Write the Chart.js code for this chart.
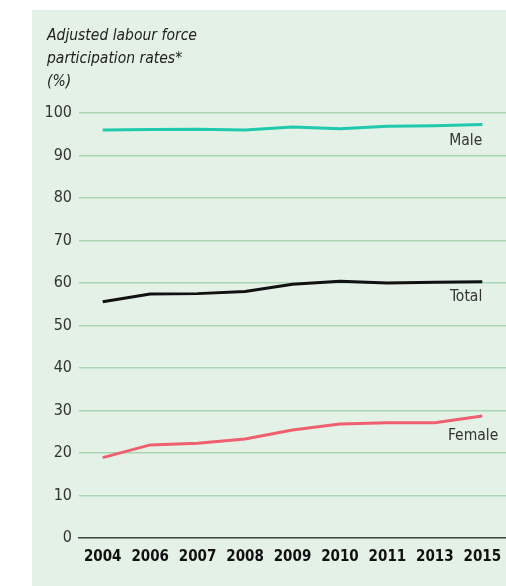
<!DOCTYPE html>
<html>
<head>
<meta charset="utf-8">
<script src="https://cdn.jsdelivr.net/npm/chart.js@4/dist/chart.umd.min.js"></script>
<style>
    html, body { margin: 0; padding: 0; background: #fff; }
    body { width: 506px; height: 586px; position: relative; overflow: hidden; }
    .panel { position: absolute; left: 32px; top: 10px; width: 474px; height: 576px; background: #e4f1e7; }
    .panel canvas { position: absolute; left: 0; top: 0; }
    .heading { position: absolute; left: 15px; top: 14px; font: italic 15.5px 'DejaVu Sans Condensed', 'Liberation Sans', sans-serif; line-height: 23px; color: #222; }
</style>
</head>
<body>
<div class="panel">
    <canvas id="ratesChart" width="474" height="576"></canvas>
    <div class="heading">Adjusted labour force<br>participation rates*<br>(%)</div>
</div>
<script>
(function () {
    'use strict';

    var years = ['2004', '2006', '2007', '2008', '2009', '2010', '2011', '2013', '2015'];
    var male = [96.0, 96.1, 96.2, 96.0, 96.7, 96.3, 96.9, 97.0, 97.3];
    var total = [55.6, 57.4, 57.5, 58.0, 59.7, 60.4, 60.0, 60.2, 60.3];
    var female = [18.9, 21.9, 22.3, 23.3, 25.4, 26.8, 27.1, 27.1, 28.7];
    var yTicks = [0, 10, 20, 30, 40, 50, 60, 70, 80, 90, 100];

    var cond = "'DejaVu Sans Condensed', 'Liberation Sans', sans-serif";

    // series names written at the end of each line
    var endLabels = {
        id: 'endLabels',
        afterDatasetsDraw: function (chart) {
            var ctx = chart.ctx;
            ctx.save();
            ctx.font = '15.5px ' + cond;
            ctx.fillStyle = '#333';
            ctx.textAlign = 'right';
            ctx.textBaseline = 'middle';
            chart.data.datasets.forEach(function (ds, i) {
                var pts = chart.getDatasetMeta(i).data;
                var last = pts[pts.length - 1];
                ctx.fillText(ds.label, last.x + ds.labelDx, last.y + ds.labelDy);
            });
            ctx.restore();
        }
    };

    function line(label, data, color, dx, dy) {
        return { label: label, data: data, borderColor: color, backgroundColor: color, borderWidth: 3, pointRadius: 0, tension: 0, labelDx: dx, labelDy: dy };
    }

    new Chart(document.getElementById('ratesChart'), {
        type: 'line',
        data: {
            labels: years,
            datasets: [
                line('Male', male, '#1fc9ad', 0, 16),
                line('Total', total, '#111111', 0, 15),
                line('Female', female, '#ef5f6e', 16, 20)
            ]
        },
        options: {
            responsive: false,
            animation: false,
            layout: { padding: { top: 103, right: 0, bottom: 0, left: 0 } },
            plugins: { legend: { display: false }, tooltip: { enabled: false } },
            scales: {
                x: {
                    offset: true,
                    grid: { display: false, drawTicks: false },
                    border: { display: true, color: '#444', width: 1.5 },
                    ticks: { padding: 10, color: '#111', font: { family: cond, size: 15, weight: 'bold' }, maxRotation: 0, autoSkip: false },
                    afterFit: function (s) { s.height = 48; s.paddingLeft = 0; s.paddingRight = 0; }
                },
                y: {
                    min: 0,
                    max: 100,
                    afterBuildTicks: function (s) { s.ticks = yTicks.map(function (v) { return { value: v }; }); },
                    grid: { color: '#a9d7b6', lineWidth: 1.5, drawTicks: false },
                    border: { display: false },
                    ticks: { padding: 7, color: '#333', font: { family: cond, size: 16 } },
                    afterFit: function (s) { s.width = 47; s.paddingTop = 0; s.paddingBottom = 0; }
                }
            }
        },
        plugins: [endLabels]
    });
}());
</script>
</body>
</html>
